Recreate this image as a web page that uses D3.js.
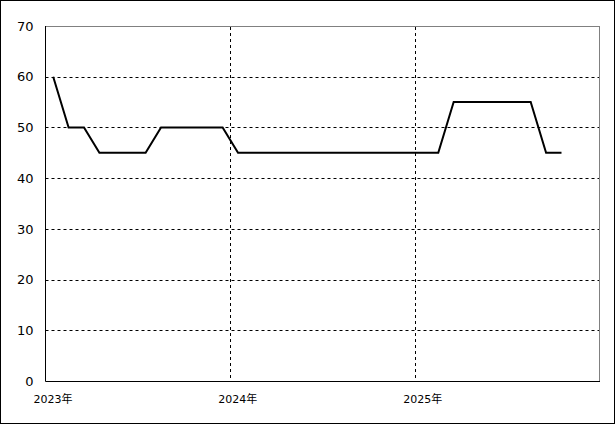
<!DOCTYPE html>
<html><head><meta charset="utf-8">
<script src="https://cdn.jsdelivr.net/npm/d3@7"></script>
<style>body{margin:0;background:#fff}svg{display:block}</style>
</head><body>
<svg id="c" width="615" height="424"></svg>
<script>
// Monthly values, Jan 2023 .. Oct 2025
const months = ["2023-01","2023-02","2023-03","2023-04","2023-05","2023-06","2023-07","2023-08","2023-09","2023-10","2023-11","2023-12",
  "2024-01","2024-02","2024-03","2024-04","2024-05","2024-06","2024-07","2024-08","2024-09","2024-10","2024-11","2024-12",
  "2025-01","2025-02","2025-03","2025-04","2025-05","2025-06","2025-07","2025-08","2025-09","2025-10"];
const values = [60,50,50,45,45,45,45,50,50,50,50,50,
  45,45,45,45,45,45,45,45,45,45,45,45,
  45,45,55,55,55,55,55,55,45,45];
const yTicks = [0,10,20,30,40,50,60,70];
const xTickMonths = [0,12,24];
const xTickLabels = ["2023年","2024年","2025年"];

const svg = d3.select("#c");
const W = 615, H = 424;
const L = 45.5, R = 600, T = 26, B = 381;
const font = "'DejaVu Sans', 'Noto Sans CJK JP', sans-serif";

svg.append("rect").attr("x",0.5).attr("y",0.5).attr("width",W-1).attr("height",H-1)
  .attr("fill","#fff").attr("stroke","#000");

const x = d3.scaleLinear().domain([0,36]).range([L,R]);
const y = d3.scaleLinear().domain([0,70]).range([B,T]);

// plot frame top/right gray
svg.append("line").attr("x1",L).attr("x2",R).attr("y1",T+0.5).attr("y2",T+0.5).attr("stroke","#808080");
svg.append("line").attr("x1",R-0.5).attr("x2",R-0.5).attr("y1",T).attr("y2",B).attr("stroke","#808080");

// horizontal grid
svg.append("g").selectAll("line").data(yTicks.filter(d=>d>0 && d<70)).join("line")
  .attr("x1",L).attr("x2",R-1)
  .attr("y1",d=>Math.round(y(d))+0.5).attr("y2",d=>Math.round(y(d))+0.5)
  .attr("stroke","#000").attr("stroke-dasharray","3,3");
// vertical grid
svg.append("g").selectAll("line").data(xTickMonths.filter(d=>d>0)).join("line")
  .attr("x1",d=>Math.round(x(d))+0.5).attr("x2",d=>Math.round(x(d))+0.5)
  .attr("y1",T+1).attr("y2",B)
  .attr("stroke","#000").attr("stroke-dasharray","3,3");

// axes lines
svg.append("line").attr("x1",L).attr("x2",L).attr("y1",T).attr("y2",B+0.5).attr("stroke","#000").attr("stroke-width",1);
svg.append("line").attr("x1",L).attr("x2",R).attr("y1",B+0.5).attr("y2",B+0.5).attr("stroke","#000").attr("stroke-width",1);

// y labels
const yAxis = d3.axisLeft(y).tickValues(yTicks).tickSize(0).tickPadding(12);
const gy = svg.append("g").attr("transform",`translate(${L},0)`).call(yAxis);
gy.select(".domain").remove();
gy.selectAll("text").attr("font-family",font).attr("font-size",13).attr("fill","#000");

// x labels
const xAxis = d3.axisBottom(x).tickValues(xTickMonths).tickFormat((d,i)=>xTickLabels[i]).tickSize(0).tickPadding(14);
const gx = svg.append("g").attr("transform",`translate(0,${B})`).call(xAxis);
gx.select(".domain").remove();
gx.selectAll("text").attr("font-family",font).attr("font-size",11).attr("fill","#000").attr("dx",7);

// line
const line = d3.line().x((d,i)=>x(i+0.5)).y(d=>y(d));
svg.append("path").datum(values).attr("d",line)
  .attr("fill","none").attr("stroke","#000").attr("stroke-width",2);
</script>
</body></html>
